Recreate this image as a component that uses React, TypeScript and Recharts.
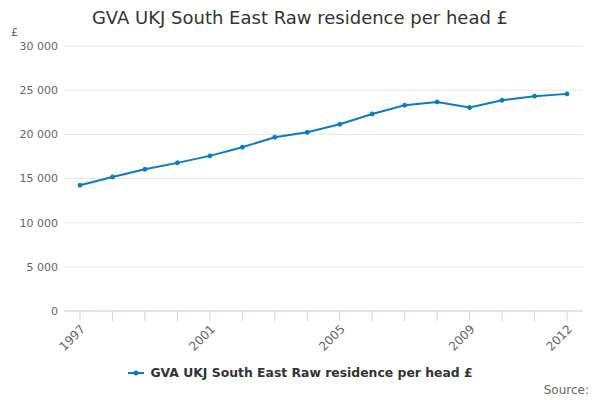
import { LineChart, Line, XAxis, YAxis, CartesianGrid, Legend } from 'recharts';

const years = [
  '1997', '1998', '1999', '2000', '2001', '2002', '2003', '2004',
  '2005', '2006', '2007', '2008', '2009', '2010', '2011', '2012',
];
const gvaPerHead = [
  14240, 15180, 16050, 16770, 17560, 18540, 19670, 20230,
  21140, 22310, 23300, 23670, 23030, 23860, 24320, 24580,
];
const labelledYears = ['1997', '2001', '2005', '2009', '2012'];
const yTicks = [0, 5000, 10000, 15000, 20000, 25000, 30000];

const seriesName = 'GVA UKJ South East Raw residence per head £';
const LINE_COLOR = '#0a7cc4';
const FONT = '"DejaVu Sans", sans-serif';

const data = years.map((year, i) => ({ year, value: gvaPerHead[i] }));

const formatThousands = (v: number) =>
  String(v).replace(/\B(?=(\d{3})+(?!\d))/g, ' ');

interface TickProps {
  x?: number;
  y?: number;
  payload?: { value: string };
}

function YearTick({ x = 0, y = 0, payload }: TickProps) {
  if (!payload || !labelledYears.includes(payload.value)) return null;
  const ax = x + 3;
  const ay = y + 4;
  return (
    <text
      x={ax}
      y={ay}
      dy={4}
      textAnchor="end"
      transform={`rotate(-45, ${ax}, ${ay})`}
      fontSize={12}
      fill="#666666"
      fontFamily={FONT}
    >
      {payload.value}
    </text>
  );
}

function LegendContent() {
  return (
    <div
      style={{
        display: 'flex',
        justifyContent: 'center',
        alignItems: 'center',
        fontFamily: FONT,
        fontSize: 12.4,
        fontWeight: 'bold',
        color: '#333333',
      }}
    >
      <svg width={18} height={10} style={{ marginRight: 5 }}>
        <line x1={1} y1={5} x2={17} y2={5} stroke={LINE_COLOR} strokeWidth={2} />
        <circle cx={9} cy={5} r={2.5} fill={LINE_COLOR} />
      </svg>
      <span>{seriesName}</span>
    </div>
  );
}

export default function App() {
  return (
    <div
      style={{
        position: 'absolute',
        left: 0,
        top: 0,
        width: 600,
        height: 400,
        background: '#ffffff',
        fontFamily: FONT,
      }}
    >
      <div
        style={{
          position: 'absolute',
          top: 7,
          left: 0,
          width: 600,
          textAlign: 'center',
          fontSize: 18,
          color: '#333333',
        }}
      >
        {seriesName}
      </div>
      <div style={{ position: 'absolute', top: 26, left: 11, fontSize: 11, color: '#666666' }}>£</div>
      <LineChart
        width={600}
        height={400}
        data={data}
        margin={{ top: 46, right: 17, left: 0, bottom: 39 }}
      >
        <CartesianGrid vertical={false} stroke="#e6e6e6" />
        <XAxis
          dataKey="year"
          interval={0}
          height={50}
          padding={{ left: 16, right: 16 }}
          axisLine={{ stroke: '#ccd6eb' }}
          tickLine={{ stroke: '#ccd6eb' }}
          tickSize={10}
          tick={<YearTick />}
        />
        <YAxis
          width={64}
          domain={[0, 30000]}
          ticks={yTicks}
          axisLine={false}
          tickLine={false}
          tickSize={4}
          tickFormatter={formatThousands}
          tick={{ fontSize: 11, fill: '#666666', fontFamily: FONT }}
        />
        <Legend
          verticalAlign="middle"
          layout="horizontal"
          align="center"
          wrapperStyle={{ top: 365, left: 0, width: 600 }}
          content={<LegendContent />}
        />
        <Line
          type="linear"
          dataKey="value"
          name={seriesName}
          stroke={LINE_COLOR}
          strokeWidth={2}
          dot={{ r: 2, fill: LINE_COLOR, stroke: LINE_COLOR, strokeWidth: 1 }}
          activeDot={false}
          isAnimationActive={false}
        />
      </LineChart>
      <div style={{ position: 'absolute', top: 383, right: 11, fontSize: 12, color: '#666666' }}>
        Source:
      </div>
    </div>
  );
}
